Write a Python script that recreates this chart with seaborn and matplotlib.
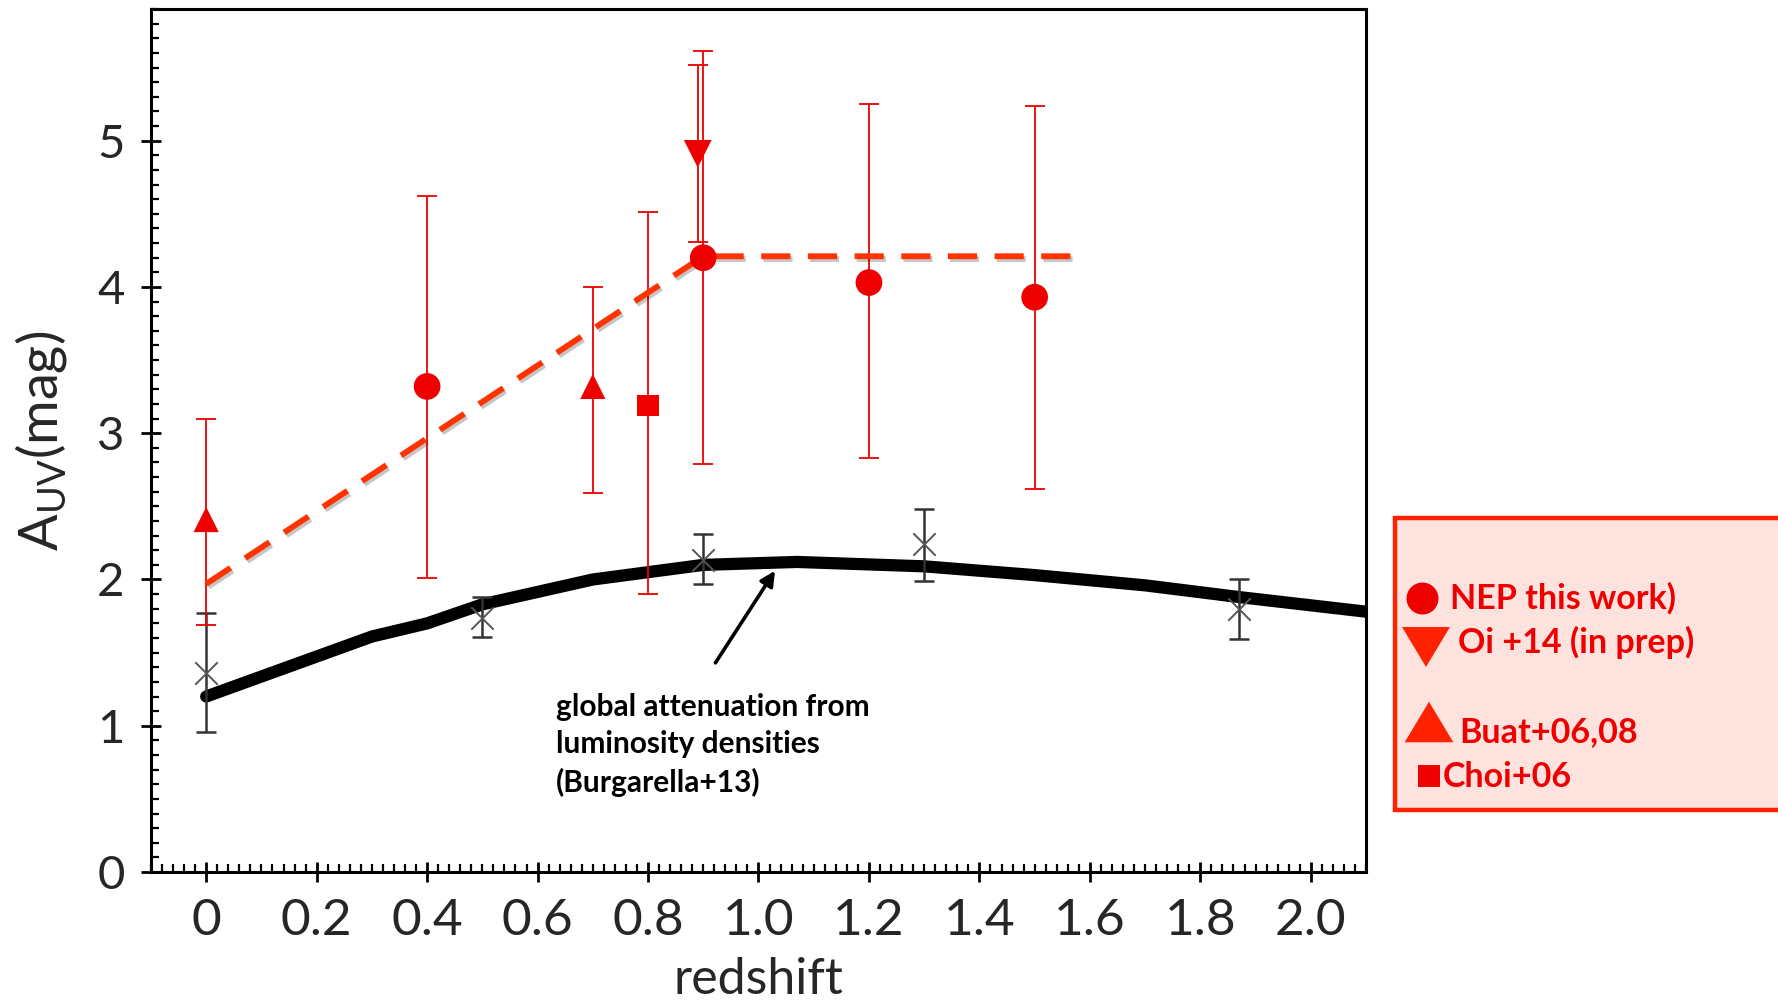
import matplotlib
matplotlib.use("Agg")
import matplotlib.pyplot as plt
import matplotlib.patheffects as pe
from matplotlib import font_manager
from matplotlib.ticker import MultipleLocator, FixedLocator, FixedFormatter
from matplotlib.lines import Line2D
from matplotlib.patches import Rectangle
import numpy as np
import pandas as pd
import seaborn as sns

# ---- data -------------------------------------------------------------
# NEP (this work)
nep_z = [0.4, 0.9, 1.2, 1.5]
nep_a = [3.32, 4.20, 4.03, 3.93]
nep_lo = [2.01, 2.79, 2.83, 2.62]
nep_hi = [4.62, 5.61, 5.25, 5.24]

# Oi+14 (in prep)
oi_z = [0.89]
oi_a = [4.91]
oi_lo = [4.31]
oi_hi = [5.52]

# Buat+06,08
buat_z = [0.0, 0.7]
buat_a = [2.41, 3.32]
buat_lo = [1.69, 2.59]
buat_hi = [3.10, 4.00]

# Choi+06
choi_z = [0.8]
choi_a = [3.19]
choi_lo = [1.90]
choi_hi = [4.51]

# Burgarella+13 global attenuation (curve) and binned points
curve_z = [0.0, 0.3, 0.4, 0.5, 0.7, 0.9, 1.07, 1.3, 1.5, 1.7, 1.87, 2.1]
curve_a = [1.20, 1.61, 1.70, 1.83, 2.00, 2.10, 2.12, 2.09, 2.03, 1.96, 1.88, 1.78]
burg_z = [0.0, 0.5, 0.9, 1.3, 1.87]
burg_a = [1.36, 1.74, 2.13, 2.24, 1.80]
burg_lo = [0.96, 1.61, 1.97, 1.99, 1.59]
burg_hi = [1.77, 1.88, 2.31, 2.48, 2.00]

# Broken-line trend through the red points
trend_z = [0.0, 0.9, 1.58]
trend_a = [1.97, 4.21, 4.21]

x_ticks = [0, 0.2, 0.4, 0.6, 0.8, 1.0, 1.2, 1.4, 1.6, 1.8, 2.0]
x_ticklabels = ["0", "0.2", "0.4", "0.6", "0.8", "1.0", "1.2", "1.4", "1.6", "1.8", "2.0"]
y_ticks = [0, 1, 2, 3, 4, 5]

legend_labels = ["NEP this work)", "Oi +14 (in prep)", "Buat+06,08", "Choi+06"]

# ---- style ------------------------------------------------------------
sns.set_theme(style="ticks")
installed = {f.name for f in font_manager.fontManager.ttflist}
main_font = "Lato" if "Lato" in installed else "DejaVu Sans"
plt.rcParams["font.family"] = [main_font, "DejaVu Sans"]
plt.rcParams["mathtext.fontset"] = "custom"
plt.rcParams["mathtext.rm"] = main_font

RED = "#EE0000"
ORANGE_RED = "#FF2200"
DASH = "#FF3300"

W, H = 1778, 1005
fig = plt.figure(figsize=(W / 100, H / 100), dpi=100)
ax = fig.add_axes([0.0849, 0.1323, 0.6834, 0.8587])

# Burgarella curve
sns.lineplot(x=curve_z, y=curve_a, ax=ax, color="black", linewidth=8.8,
             solid_capstyle="round", solid_joinstyle="round", zorder=2)

# Trend line
sns.lineplot(x=trend_z, y=trend_a, ax=ax, color=DASH, linewidth=4.2,
             zorder=3,
             path_effects=[pe.SimpleLineShadow(offset=(1.5, -2), alpha=0.25),
                           pe.Normal()])
ax.lines[-1].set_dashes([5, 3])


def errbars(z, a, lo, hi, color, lw=1.3, cap=7):
    a = np.asarray(a)
    yerr = np.vstack([a - np.asarray(lo), np.asarray(hi) - a])
    ax.errorbar(z, a, yerr=yerr, fmt="none", ecolor=color, elinewidth=lw,
                capsize=cap, capthick=lw, zorder=2.5)


errbars(burg_z, burg_a, burg_lo, burg_hi, "#333333", lw=1.8)
errbars(nep_z, nep_a, nep_lo, nep_hi, RED)
errbars(oi_z, oi_a, oi_lo, oi_hi, RED)
errbars(buat_z, buat_a, buat_lo, buat_hi, RED)
errbars(choi_z, choi_a, choi_lo, choi_hi, RED)

pts = pd.concat([
    pd.DataFrame({"z": nep_z, "A": nep_a, "src": "nep"}),
    pd.DataFrame({"z": oi_z, "A": oi_a, "src": "oi"}),
    pd.DataFrame({"z": buat_z, "A": buat_a, "src": "buat"}),
    pd.DataFrame({"z": choi_z, "A": choi_a, "src": "choi"}),
])
markers = {"nep": "o", "oi": "v", "buat": "^", "choi": "s"}
sizes = {"nep": 370, "oi": 400, "buat": 330, "choi": 240}
for src, grp in pts.groupby("src"):
    sns.scatterplot(data=grp, x="z", y="A", ax=ax, marker=markers[src],
                    s=sizes[src], color=RED, edgecolor="none", linewidth=0,
                    zorder=4, legend=False)

sns.scatterplot(x=burg_z, y=burg_a, ax=ax, marker="x", s=260, color="#555555",
                linewidth=1.4, zorder=3, legend=False)

# Annotation
ax.annotate("", xy=(1.03, 2.06), xytext=(0.922, 1.43),
            arrowprops=dict(arrowstyle="-|>", color="black", lw=2.6,
                            mutation_scale=22, shrinkA=0, shrinkB=0))
ax.text(0.634, 0.87, "global attenuation from\nluminosity densities\n(Burgarella+13)",
        fontsize=21.5, fontweight="bold", color="black", ha="left", va="center",
        linespacing=1.4)

# Axes formatting
ax.set_xlim(-0.1, 2.1)
ax.set_ylim(0, 5.9)
ax.xaxis.set_major_locator(FixedLocator(x_ticks))
ax.xaxis.set_major_formatter(FixedFormatter(x_ticklabels))
ax.xaxis.set_minor_locator(MultipleLocator(0.02))
ax.yaxis.set_major_locator(FixedLocator(y_ticks))
ax.yaxis.set_minor_locator(MultipleLocator(0.1))
ax.tick_params(which="major", direction="inout", length=14, width=2,
               color="black", labelsize=34, pad=12)
ax.tick_params(axis="x", which="major", labelsize=37)
ax.tick_params(which="minor", direction="in", length=6, width=1.6, color="black")
for sp in ax.spines.values():
    sp.set_linewidth(2.2)
    sp.set_color("black")
ax.set_xlabel("redshift", fontsize=36, labelpad=9)
ax.set_ylabel(r"A$_{\mathregular{UV}}$(mag)", fontsize=39, labelpad=20)
ax.grid(False)


# ---- key panel (drawn in figure pixels) -------------------------------
def fx(px):
    return px / W


def fy(py):
    return 1 - py / H


fig.add_artist(Rectangle((fx(1395), fy(810)), fx(420), (810 - 518) / H,
                         transform=fig.transFigure, facecolor="#FDE2DE",
                         edgecolor=ORANGE_RED, linewidth=3.2, zorder=1))

down_tri = [(-1.2, 1.0), (1.2, 1.0), (0.0, -1.0)]
up_tri = [(-1.2, -1.0), (1.2, -1.0), (0.0, 1.0)]
shadow = [pe.SimpleLineShadow(offset=(1.5, -2.5), alpha=0.3), pe.Normal()]
key_marks = [
    (1422, 598, "o", 23, RED, []),
    (1426, 647, down_tri, 34.5, ORANGE_RED, shadow),
    (1429, 722, up_tri, 35, ORANGE_RED, shadow),
    (1429, 776, "s", 16, RED, []),
]
for x, y, m, ms, c, eff in key_marks:
    fig.add_artist(Line2D([fx(x)], [fy(y)], transform=fig.transFigure,
                          marker=m, markersize=ms, color=c, linestyle="none",
                          markeredgewidth=0, path_effects=eff, zorder=2))

key_text = [(1450, 598), (1458, 642), (1459, 732), (1443, 777)]
for (x, y), lab in zip(key_text, legend_labels):
    fig.text(fx(x), fy(y), lab, fontsize=24.5, fontweight="bold", color=RED,
             ha="left", va="center", zorder=3)

fig.savefig("out.png", dpi=100)
